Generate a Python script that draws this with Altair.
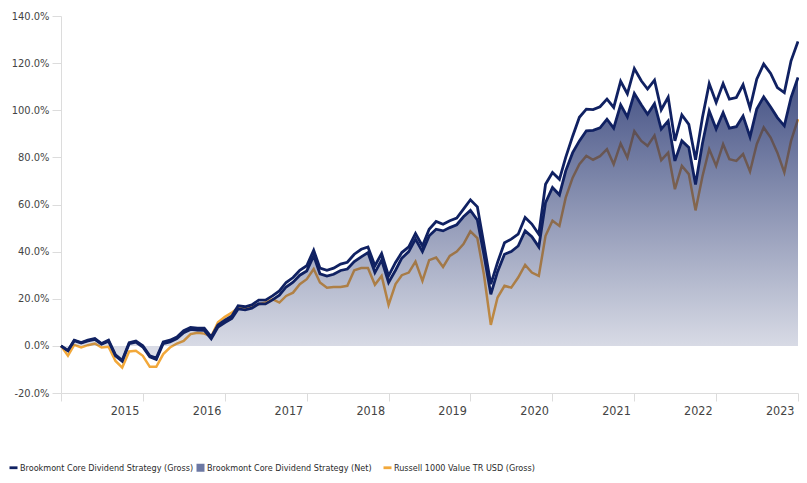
import calendar
import altair as alt
import pandas as pd

# month-end dates Dec-2014 .. Dec-2023
dates = []
for i in range(109):
    yy = 2014 + (11 + i) // 12
    mm = (11 + i) % 12 + 1
    dd = calendar.monthrange(yy, mm)[1]
    dates.append(f"{yy}-{mm:02d}-{dd:02d}")

gross = [0, -2.0, 2.4, 1.4, 2.4, 3.1, 1.0, 2.4, -3.8, -6.1, 1.4, 2.1, 0.0,
         -4.2, -5.2, 1.7, 2.4, 3.8, 6.4, 7.8, 7.5, 7.5, 3.8, 8.9, 10.9,
         12.7, 17.0, 16.6, 17.4, 19.4, 19.4, 21.2, 23.3, 26.9, 29.0, 32.1, 34.0,
         40.6, 33.0, 32.1, 33.0, 34.7, 35.5, 38.9, 41.0, 42.0, 34.0, 39.2, 29.7,
         35.4, 39.6, 42.0, 47.7, 42.4, 49.5, 52.8, 51.6, 53.1, 54.2, 58.0, 62.0,
         59.0, 43.2, 26.2, 35.4, 43.8, 45.3, 47.4, 54.5, 51.7, 47.4, 68.6, 73.6,
         70.7, 80.0, 89.0, 97.0, 100.5, 100.3, 101.5, 104.7, 101.2, 112.3, 107.0, 117.7,
         112.5, 109.0, 112.8, 100.2, 105.5, 87.0, 98.0, 94.0, 79.0, 97.0, 111.3, 103.3,
         111.3, 104.7, 105.4, 110.8, 100.9, 113.2, 119.6, 115.6, 109.6, 107.5, 121.0, 129.2]

net = [0, -2.1, 2.2, 1.2, 2.1, 2.8, 0.7, 2.0, -4.2, -6.5, 0.9, 1.6, -0.5,
       -4.7, -5.8, 1.0, 1.7, 3.1, 5.6, 7.0, 6.7, 6.6, 3.0, 8.0, 9.9,
       11.6, 15.7, 15.3, 16.0, 17.9, 17.8, 19.5, 21.5, 25.0, 27.0, 30.0, 31.8,
       38.2, 30.6, 29.6, 30.4, 32.0, 32.6, 35.8, 37.8, 39.6, 31.1, 36.4, 26.9,
       32.1, 37.2, 40.0, 45.3, 40.0, 46.7, 49.5, 48.8, 50.2, 51.4, 54.8, 57.5,
       53.4, 38.9, 21.9, 31.5, 38.9, 40.0, 42.4, 48.8, 46.3, 42.0, 60.8, 67.2,
       64.1, 74.3, 82.0, 87.0, 91.3, 91.5, 92.5, 96.2, 92.4, 102.3, 97.2, 107.1,
       102.3, 98.3, 102.8, 92.0, 95.5, 78.5, 87.0, 84.2, 68.5, 86.0, 99.7, 92.0,
       99.0, 92.4, 93.0, 97.6, 88.7, 100.5, 105.7, 101.4, 96.9, 93.4, 105.4, 113.9]

russell = [0, -4.2, 0.4, -0.7, 0.3, 1.0, -0.7, -0.4, -6.4, -9.2, -2.4, -2.1, -4.2,
           -8.9, -8.9, -3.5, -0.7, 1.0, 2.1, 5.0, 5.6, 5.2, 4.0, 10.0, 12.3,
           14.1, 16.3, 16.0, 17.0, 17.7, 18.4, 19.8, 18.4, 21.2, 22.6, 26.2, 28.3,
           32.6, 26.9, 24.7, 25.0, 25.0, 25.5, 32.1, 33.0, 33.0, 25.9, 29.7, 17.4,
           26.2, 30.0, 31.1, 35.8, 27.6, 36.4, 37.5, 33.5, 38.2, 40.0, 43.2, 48.6,
           45.7, 30.4, 8.9, 20.5, 25.5, 24.7, 29.0, 34.4, 31.1, 29.7, 46.7, 53.1,
           50.9, 62.9, 71.4, 77.1, 80.6, 79.0, 80.5, 83.5, 77.1, 85.9, 79.9, 91.1,
           87.0, 84.9, 89.3, 78.8, 82.0, 66.5, 76.4, 72.9, 57.5, 72.0, 83.5, 76.4,
           85.6, 79.2, 78.5, 81.4, 74.0, 85.6, 92.7, 88.4, 82.0, 73.6, 87.0, 96.2]

series_names = ["Brookmont Core Dividend Strategy (Gross)",
                "Brookmont Core Dividend Strategy (Net)",
                "Russell 1000 Value TR USD (Gross)"]
y_ticks = [-20, 0, 20, 40, 60, 80, 100, 120, 140]
year_ends = list(range(2014, 2024))

NAVY = "#102162"
ORANGE = "#f2a83a"
FONT = "'Liberation Sans Narrow', 'DejaVu Sans Condensed', 'Roboto', sans-serif"

df = pd.DataFrame({"date": dates, "gross": gross, "net": net, "russell": russell})

x_enc = alt.X(
    "date:T",
    scale=alt.Scale(type="utc",
                    domain=[alt.DateTime(year=2014, month=12, date=31, utc=True),
                            alt.DateTime(year=2023, month=12, date=31, utc=True)]),
    axis=alt.Axis(
        title=None,
        values=[alt.DateTime(year=y, month=12, date=31, utc=True) for y in year_ends],
        labelExpr="utcyear(datum.value) < 2015 ? '' : utcFormat(datum.value, '%Y')",
        labelAlign="right", labelOffset=-4, labelPadding=3, tickSize=8,
        labelFontSize=12.5,
    ),
)

y_scale = alt.Scale(domain=[-20, 140], nice=False)
y_axis = alt.Axis(
    title=None, values=y_ticks, tickSize=9, labelPadding=3, labelFontSize=11,
    labelExpr="(datum.value < 0 ? '-' : '') + format(abs(datum.value), '.1f') + '%'",
)

base = alt.Chart(df)

russell_line = base.mark_line(color=ORANGE, strokeWidth=2.5).encode(
    x=x_enc, y=alt.Y("russell:Q", scale=y_scale, axis=y_axis)
)

area = base.mark_area(
    color=alt.Gradient(
        gradient="linear",
        stops=[alt.GradientStop(color="rgba(16,33,98,0.78)", offset=0),
               alt.GradientStop(color="rgba(16,33,98,0.13)", offset=1)],
        x1=0, x2=0, y1=0, y2=1,
    )
).encode(x=x_enc, y=alt.Y("net:Q", scale=y_scale), y2=alt.datum(0))

net_line = base.mark_line(color=NAVY, strokeWidth=2.8).encode(
    x=x_enc, y=alt.Y("net:Q", scale=y_scale)
)
gross_line = base.mark_line(color=NAVY, strokeWidth=2.8).encode(
    x=x_enc, y=alt.Y("gross:Q", scale=y_scale)
)

legend_spec = alt.Legend(
    title=None, orient="none", legendX=-52, legendY=447, direction="horizontal",
    columns=3, gridAlign="all", columnPadding=2, symbolSize=64, symbolOpacity=1,
    symbolStrokeWidth=0, labelFont=FONT, labelFontSize=9, labelColor="#2b2b2b",
    labelOffset=2, padding=0, labelLimit=400,
)
leg_df = pd.DataFrame({"series": series_names})
legend_layer = alt.Chart(leg_df).mark_point(filled=True, opacity=0).encode(
    color=alt.Color("series:N",
                    scale=alt.Scale(domain=series_names, range=[NAVY, "#6c78a3", ORANGE]),
                    legend=legend_spec),
    shape=alt.Shape("series:N",
                    scale=alt.Scale(domain=series_names,
                                    range=["M-1,-0.35L1,-0.35L1,0.35L-1,0.35Z",
                                           "M-1,-1L1,-1L1,1L-1,1Z",
                                           "M-1,-0.35L1,-0.35L1,0.35L-1,0.35Z"]),
                    legend=legend_spec),
)

chart = alt.layer(russell_line, area, net_line, gross_line, legend_layer).properties(
    width=737, height=377,
    autosize=alt.AutoSizeParams(type="none"),
    padding={"left": 53, "top": 8, "right": 1, "bottom": 82},
    background="white",
).configure_view(stroke=None).configure_axis(
    grid=False, domainColor="#dcdcdc", tickColor="#dcdcdc", labelColor="#444444",
    labelFont=FONT, labelFontSize=13,
)

chart.save("out.html", embed_options={"renderer": "svg", "actions": False})
